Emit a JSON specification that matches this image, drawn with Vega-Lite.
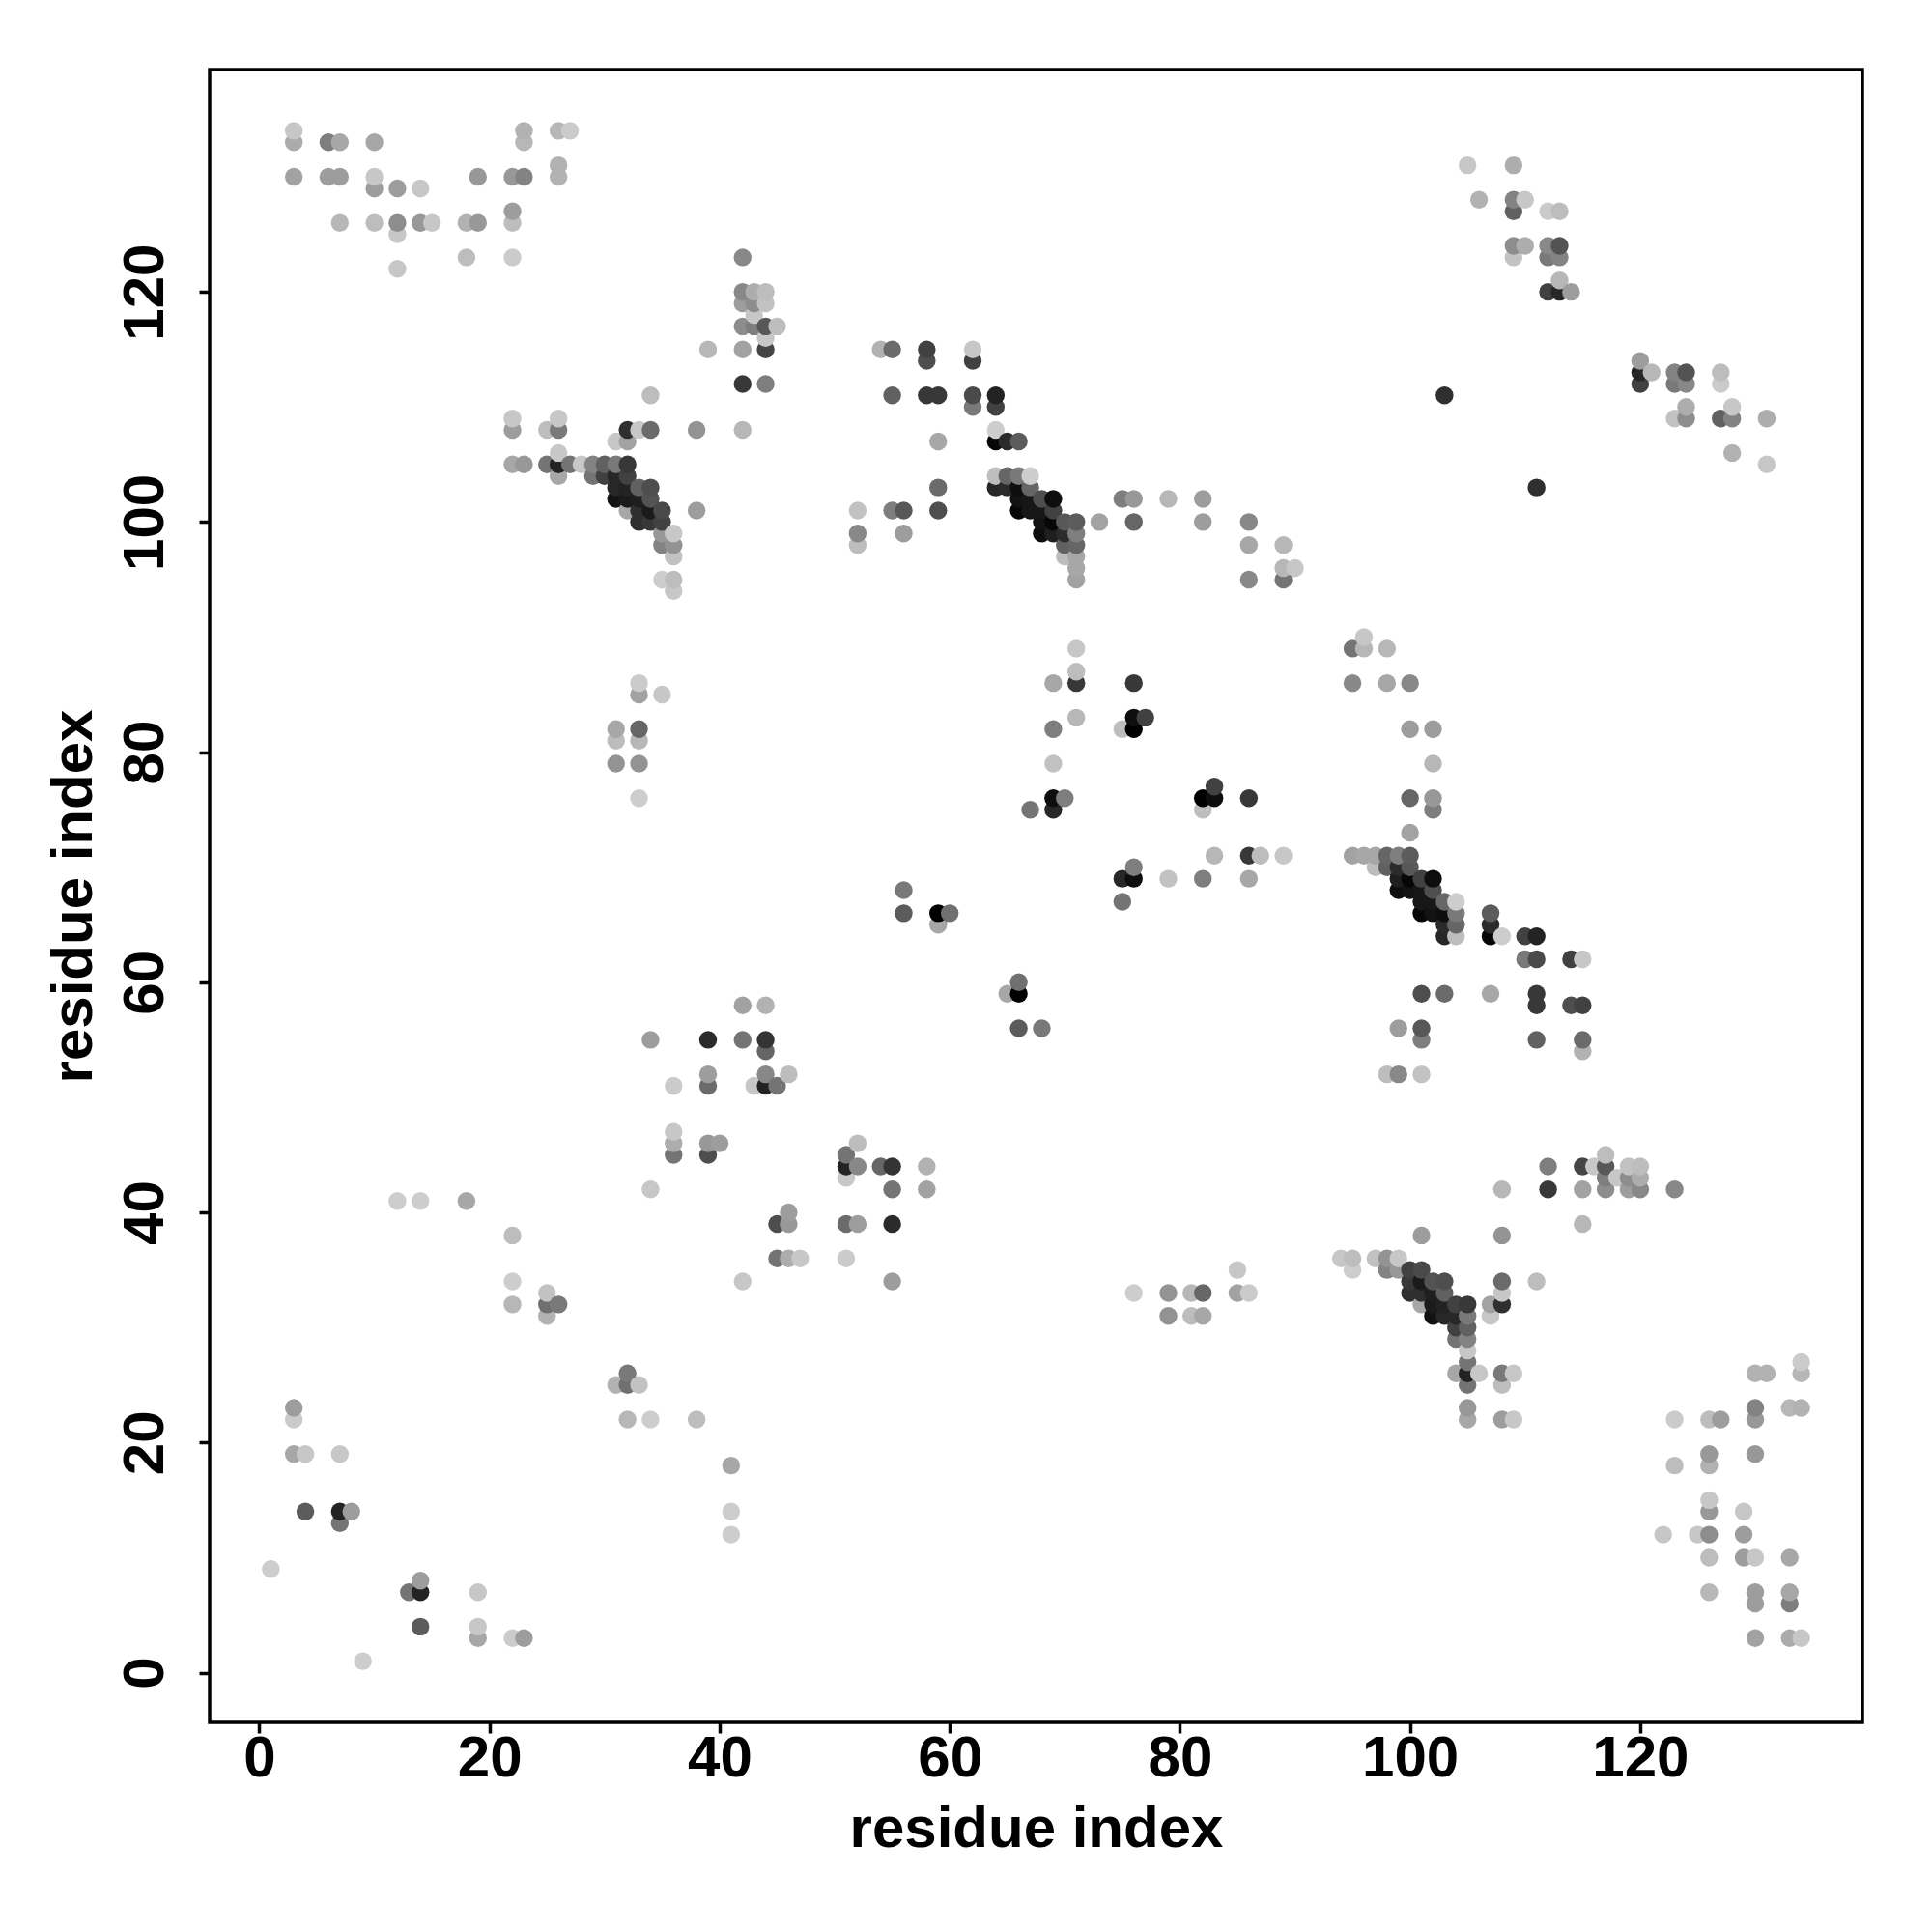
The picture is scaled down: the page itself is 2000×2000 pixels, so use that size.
{"$schema":"https://vega.github.io/schema/vega-lite/v6.json","width":1711,"height":1711,"autosize":"none","padding":{"left":217,"top":72,"right":72,"bottom":217},"background":"white","config":{"view":{"stroke":"#000000","strokeWidth":3.5,"fill":"white"}},
"data":{"values":[
{"x":1,"y":9,"g":210},
{"x":3,"y":19,"g":175},{"x":3,"y":22,"g":208},{"x":3,"y":23,"g":165},{"x":3,"y":130,"g":170},{"x":3,"y":133,"g":178},{"x":3,"y":134,"g":205},
{"x":4,"y":14,"g":100},{"x":4,"y":19,"g":205},
{"x":6,"y":130,"g":165},{"x":6,"y":133,"g":135},
{"x":7,"y":13,"g":125},{"x":7,"y":14,"g":35},{"x":7,"y":19,"g":205},{"x":7,"y":126,"g":190},{"x":7,"y":130,"g":165},{"x":7,"y":133,"g":175},
{"x":8,"y":14,"g":165},
{"x":9,"y":1,"g":210},
{"x":10,"y":126,"g":195},{"x":10,"y":129,"g":165},{"x":10,"y":130,"g":205},{"x":10,"y":133,"g":175},
{"x":12,"y":41,"g":210},{"x":12,"y":122,"g":205},{"x":12,"y":125,"g":205},{"x":12,"y":126,"g":150},{"x":12,"y":129,"g":165},
{"x":13,"y":7,"g":125},
{"x":14,"y":4,"g":100},{"x":14,"y":7,"g":35},{"x":14,"y":8,"g":165},{"x":14,"y":41,"g":210},{"x":14,"y":126,"g":160},{"x":14,"y":129,"g":205},
{"x":15,"y":126,"g":205},
{"x":18,"y":41,"g":175},{"x":18,"y":123,"g":195},{"x":18,"y":126,"g":185},
{"x":19,"y":3,"g":175},{"x":19,"y":4,"g":205},{"x":19,"y":7,"g":205},{"x":19,"y":126,"g":160},{"x":19,"y":130,"g":160},
{"x":22,"y":3,"g":208},{"x":22,"y":32,"g":190},{"x":22,"y":34,"g":210},{"x":22,"y":38,"g":195},{"x":22,"y":105,"g":175},{"x":22,"y":108,"g":165},{"x":22,"y":109,"g":205},{"x":22,"y":123,"g":208},{"x":22,"y":126,"g":195},{"x":22,"y":127,"g":165},{"x":22,"y":130,"g":160},
{"x":23,"y":3,"g":165},{"x":23,"y":105,"g":160},{"x":23,"y":130,"g":140},{"x":23,"y":133,"g":190},{"x":23,"y":134,"g":185},
{"x":25,"y":31,"g":185},{"x":25,"y":32,"g":120},{"x":25,"y":33,"g":200},{"x":25,"y":105,"g":125},{"x":25,"y":108,"g":195},
{"x":26,"y":32,"g":130},{"x":26,"y":104,"g":175},{"x":26,"y":105,"g":35},{"x":26,"y":106,"g":205},{"x":26,"y":108,"g":130},{"x":26,"y":109,"g":205},{"x":26,"y":130,"g":185},{"x":26,"y":131,"g":185},{"x":26,"y":134,"g":190},
{"x":27,"y":105,"g":125},{"x":27,"y":134,"g":208},
{"x":28,"y":105,"g":205},
{"x":29,"y":104,"g":125},{"x":29,"y":105,"g":140},
{"x":30,"y":104,"g":70},{"x":30,"y":105,"g":105},
{"x":31,"y":25,"g":185},{"x":31,"y":79,"g":155},{"x":31,"y":81,"g":195},{"x":31,"y":82,"g":175},{"x":31,"y":102,"g":15},{"x":31,"y":103,"g":40},{"x":31,"y":104,"g":40},{"x":31,"y":105,"g":130},{"x":31,"y":107,"g":205},
{"x":32,"y":22,"g":190},{"x":32,"y":25,"g":120},{"x":32,"y":26,"g":130},{"x":32,"y":101,"g":175},{"x":32,"y":102,"g":25},{"x":32,"y":103,"g":35},{"x":32,"y":104,"g":70},{"x":32,"y":105,"g":60},{"x":32,"y":107,"g":170},{"x":32,"y":108,"g":50},
{"x":33,"y":25,"g":200},{"x":33,"y":76,"g":210},{"x":33,"y":79,"g":155},{"x":33,"y":81,"g":190},{"x":33,"y":82,"g":110},{"x":33,"y":85,"g":170},{"x":33,"y":86,"g":208},{"x":33,"y":100,"g":50},{"x":33,"y":101,"g":50},{"x":33,"y":102,"g":30},{"x":33,"y":103,"g":105},{"x":33,"y":108,"g":205},
{"x":34,"y":22,"g":210},{"x":34,"y":42,"g":205},{"x":34,"y":55,"g":165},{"x":34,"y":100,"g":60},{"x":34,"y":101,"g":25},{"x":34,"y":102,"g":90},{"x":34,"y":103,"g":85},{"x":34,"y":108,"g":115},{"x":34,"y":111,"g":195},
{"x":35,"y":85,"g":205},{"x":35,"y":95,"g":210},{"x":35,"y":98,"g":140},{"x":35,"y":99,"g":160},{"x":35,"y":100,"g":70},{"x":35,"y":101,"g":80},
{"x":36,"y":45,"g":125},{"x":36,"y":46,"g":180},{"x":36,"y":47,"g":205},{"x":36,"y":51,"g":208},{"x":36,"y":94,"g":205},{"x":36,"y":95,"g":195},{"x":36,"y":97,"g":200},{"x":36,"y":98,"g":155},{"x":36,"y":99,"g":205},
{"x":38,"y":22,"g":195},{"x":38,"y":101,"g":165},{"x":38,"y":108,"g":155},
{"x":39,"y":45,"g":85},{"x":39,"y":46,"g":160},{"x":39,"y":51,"g":115},{"x":39,"y":52,"g":165},{"x":39,"y":55,"g":45},{"x":39,"y":115,"g":190},
{"x":40,"y":46,"g":165},
{"x":41,"y":12,"g":210},{"x":41,"y":14,"g":210},{"x":41,"y":18,"g":175},
{"x":42,"y":34,"g":205},{"x":42,"y":55,"g":125},{"x":42,"y":58,"g":170},{"x":42,"y":108,"g":190},{"x":42,"y":112,"g":60},{"x":42,"y":115,"g":170},{"x":42,"y":117,"g":150},{"x":42,"y":119,"g":165},{"x":42,"y":120,"g":145},{"x":42,"y":123,"g":145},
{"x":43,"y":51,"g":205},{"x":43,"y":117,"g":135},{"x":43,"y":118,"g":205},{"x":43,"y":119,"g":150},{"x":43,"y":120,"g":180},
{"x":44,"y":51,"g":35},{"x":44,"y":52,"g":145},{"x":44,"y":54,"g":110},{"x":44,"y":55,"g":55},{"x":44,"y":58,"g":185},{"x":44,"y":112,"g":135},{"x":44,"y":115,"g":75},{"x":44,"y":116,"g":205},{"x":44,"y":117,"g":95},{"x":44,"y":119,"g":200},{"x":44,"y":120,"g":195},
{"x":45,"y":36,"g":125},{"x":45,"y":39,"g":85},{"x":45,"y":51,"g":125},{"x":45,"y":117,"g":195},
{"x":46,"y":36,"g":180},{"x":46,"y":39,"g":160},{"x":46,"y":40,"g":165},{"x":46,"y":52,"g":195},
{"x":47,"y":36,"g":205},
{"x":51,"y":36,"g":208},{"x":51,"y":39,"g":115},{"x":51,"y":43,"g":205},{"x":51,"y":44,"g":35},{"x":51,"y":45,"g":125},
{"x":52,"y":39,"g":165},{"x":52,"y":44,"g":145},{"x":52,"y":46,"g":195},{"x":52,"y":98,"g":195},{"x":52,"y":99,"g":145},{"x":52,"y":101,"g":200},
{"x":54,"y":44,"g":110},{"x":54,"y":115,"g":185},
{"x":55,"y":34,"g":165},{"x":55,"y":39,"g":45},{"x":55,"y":42,"g":125},{"x":55,"y":44,"g":55},{"x":55,"y":101,"g":135},{"x":55,"y":111,"g":105},{"x":55,"y":115,"g":115},
{"x":56,"y":66,"g":100},{"x":56,"y":68,"g":130},{"x":56,"y":99,"g":165},{"x":56,"y":101,"g":95},
{"x":58,"y":42,"g":170},{"x":58,"y":44,"g":185},{"x":58,"y":111,"g":60},{"x":58,"y":114,"g":85},{"x":58,"y":115,"g":70},
{"x":59,"y":65,"g":175},{"x":59,"y":66,"g":0},{"x":59,"y":101,"g":85},{"x":59,"y":103,"g":115},{"x":59,"y":107,"g":175},{"x":59,"y":111,"g":60},
{"x":60,"y":66,"g":120},
{"x":62,"y":110,"g":130},{"x":62,"y":111,"g":80},{"x":62,"y":114,"g":70},{"x":62,"y":115,"g":205},
{"x":64,"y":103,"g":40},{"x":64,"y":104,"g":195},{"x":64,"y":107,"g":5},{"x":64,"y":108,"g":210},{"x":64,"y":110,"g":70},{"x":64,"y":111,"g":35},
{"x":65,"y":59,"g":175},{"x":65,"y":103,"g":45},{"x":65,"y":104,"g":110},{"x":65,"y":107,"g":45},
{"x":66,"y":56,"g":100},{"x":66,"y":59,"g":0},{"x":66,"y":60,"g":120},{"x":66,"y":101,"g":5},{"x":66,"y":102,"g":15},{"x":66,"y":103,"g":10},{"x":66,"y":104,"g":130},{"x":66,"y":107,"g":100},
{"x":67,"y":75,"g":125},{"x":67,"y":101,"g":20},{"x":67,"y":102,"g":20},{"x":67,"y":103,"g":110},{"x":67,"y":104,"g":210},
{"x":68,"y":56,"g":130},{"x":68,"y":99,"g":10},{"x":68,"y":100,"g":15},{"x":68,"y":101,"g":20},{"x":68,"y":102,"g":85},
{"x":69,"y":75,"g":40},{"x":69,"y":76,"g":10},{"x":69,"y":79,"g":200},{"x":69,"y":82,"g":135},{"x":69,"y":86,"g":175},{"x":69,"y":99,"g":30},{"x":69,"y":100,"g":5},{"x":69,"y":101,"g":70},{"x":69,"y":102,"g":10},
{"x":70,"y":76,"g":135},{"x":70,"y":97,"g":195},{"x":70,"y":98,"g":105},{"x":70,"y":99,"g":45},{"x":70,"y":100,"g":95},
{"x":71,"y":83,"g":190},{"x":71,"y":86,"g":60},{"x":71,"y":87,"g":195},{"x":71,"y":89,"g":205},{"x":71,"y":95,"g":170},{"x":71,"y":96,"g":175},{"x":71,"y":97,"g":175},{"x":71,"y":98,"g":110},{"x":71,"y":99,"g":135},{"x":71,"y":100,"g":100},
{"x":73,"y":100,"g":170},
{"x":75,"y":67,"g":125},{"x":75,"y":69,"g":40},{"x":75,"y":82,"g":195},{"x":75,"y":102,"g":135},
{"x":76,"y":33,"g":210},{"x":76,"y":69,"g":10},{"x":76,"y":70,"g":135},{"x":76,"y":82,"g":0},{"x":76,"y":83,"g":10},{"x":76,"y":86,"g":60},{"x":76,"y":100,"g":110},{"x":76,"y":102,"g":160},
{"x":77,"y":83,"g":70},
{"x":79,"y":31,"g":155},{"x":79,"y":33,"g":155},{"x":79,"y":69,"g":200},{"x":79,"y":102,"g":190},
{"x":81,"y":31,"g":195},{"x":81,"y":33,"g":190},
{"x":82,"y":31,"g":175},{"x":82,"y":33,"g":110},{"x":82,"y":69,"g":135},{"x":82,"y":75,"g":195},{"x":82,"y":76,"g":0},{"x":82,"y":100,"g":165},{"x":82,"y":102,"g":165},
{"x":83,"y":71,"g":190},{"x":83,"y":76,"g":10},{"x":83,"y":77,"g":70},
{"x":85,"y":33,"g":170},{"x":85,"y":35,"g":205},
{"x":86,"y":33,"g":208},{"x":86,"y":69,"g":175},{"x":86,"y":71,"g":60},{"x":86,"y":76,"g":60},{"x":86,"y":95,"g":145},{"x":86,"y":98,"g":175},{"x":86,"y":100,"g":145},
{"x":87,"y":71,"g":195},
{"x":89,"y":71,"g":205},{"x":89,"y":95,"g":125},{"x":89,"y":96,"g":190},{"x":89,"y":98,"g":190},
{"x":90,"y":96,"g":205},
{"x":94,"y":36,"g":205},
{"x":95,"y":35,"g":210},{"x":95,"y":36,"g":195},{"x":95,"y":71,"g":170},{"x":95,"y":86,"g":145},{"x":95,"y":89,"g":125},
{"x":96,"y":71,"g":175},{"x":96,"y":89,"g":190},{"x":96,"y":90,"g":205},
{"x":97,"y":36,"g":200},{"x":97,"y":70,"g":195},{"x":97,"y":71,"g":175},
{"x":98,"y":35,"g":140},{"x":98,"y":36,"g":155},{"x":98,"y":52,"g":195},{"x":98,"y":70,"g":105},{"x":98,"y":71,"g":110},{"x":98,"y":86,"g":175},{"x":98,"y":89,"g":190},
{"x":99,"y":35,"g":160},{"x":99,"y":36,"g":205},{"x":99,"y":52,"g":145},{"x":99,"y":56,"g":165},{"x":99,"y":68,"g":10},{"x":99,"y":69,"g":30},{"x":99,"y":70,"g":45},{"x":99,"y":71,"g":135},
{"x":100,"y":33,"g":50},{"x":100,"y":34,"g":60},{"x":100,"y":35,"g":70},{"x":100,"y":68,"g":15},{"x":100,"y":69,"g":5},{"x":100,"y":70,"g":95},{"x":100,"y":71,"g":100},{"x":100,"y":73,"g":170},{"x":100,"y":76,"g":110},{"x":100,"y":82,"g":165},{"x":100,"y":86,"g":145},
{"x":101,"y":32,"g":175},{"x":101,"y":33,"g":50},{"x":101,"y":34,"g":25},{"x":101,"y":35,"g":80},{"x":101,"y":38,"g":165},{"x":101,"y":52,"g":200},{"x":101,"y":55,"g":135},{"x":101,"y":56,"g":95},{"x":101,"y":59,"g":85},{"x":101,"y":66,"g":5},{"x":101,"y":67,"g":20},{"x":101,"y":68,"g":20},{"x":101,"y":69,"g":70},
{"x":102,"y":31,"g":15},{"x":102,"y":32,"g":25},{"x":102,"y":33,"g":30},{"x":102,"y":34,"g":90},{"x":102,"y":66,"g":15},{"x":102,"y":67,"g":20},{"x":102,"y":68,"g":85},{"x":102,"y":69,"g":10},{"x":102,"y":75,"g":135},{"x":102,"y":76,"g":160},{"x":102,"y":79,"g":190},{"x":102,"y":82,"g":165},
{"x":103,"y":31,"g":40},{"x":103,"y":32,"g":35},{"x":103,"y":33,"g":105},{"x":103,"y":34,"g":85},{"x":103,"y":59,"g":115},{"x":103,"y":64,"g":40},{"x":103,"y":65,"g":45},{"x":103,"y":66,"g":10},{"x":103,"y":67,"g":110},{"x":103,"y":111,"g":50},
{"x":104,"y":26,"g":175},{"x":104,"y":29,"g":125},{"x":104,"y":30,"g":70},{"x":104,"y":31,"g":40},{"x":104,"y":32,"g":70},{"x":104,"y":64,"g":195},{"x":104,"y":65,"g":110},{"x":104,"y":66,"g":130},{"x":104,"y":67,"g":210},
{"x":105,"y":22,"g":175},{"x":105,"y":23,"g":160},{"x":105,"y":25,"g":125},{"x":105,"y":26,"g":35},{"x":105,"y":27,"g":125},{"x":105,"y":28,"g":205},{"x":105,"y":29,"g":140},{"x":105,"y":30,"g":105},{"x":105,"y":31,"g":130},{"x":105,"y":32,"g":60},{"x":105,"y":131,"g":205},
{"x":106,"y":26,"g":205},{"x":106,"y":128,"g":185},
{"x":107,"y":31,"g":205},{"x":107,"y":32,"g":170},{"x":107,"y":59,"g":175},{"x":107,"y":64,"g":5},{"x":107,"y":65,"g":45},{"x":107,"y":66,"g":100},
{"x":108,"y":22,"g":165},{"x":108,"y":25,"g":195},{"x":108,"y":26,"g":130},{"x":108,"y":32,"g":50},{"x":108,"y":33,"g":205},{"x":108,"y":34,"g":115},{"x":108,"y":38,"g":155},{"x":108,"y":42,"g":190},{"x":108,"y":64,"g":210},
{"x":109,"y":22,"g":205},{"x":109,"y":26,"g":205},{"x":109,"y":123,"g":200},{"x":109,"y":124,"g":150},{"x":109,"y":127,"g":105},{"x":109,"y":128,"g":140},{"x":109,"y":131,"g":180},
{"x":110,"y":62,"g":130},{"x":110,"y":64,"g":70},{"x":110,"y":124,"g":180},{"x":110,"y":128,"g":205},
{"x":111,"y":34,"g":195},{"x":111,"y":55,"g":105},{"x":111,"y":58,"g":60},{"x":111,"y":59,"g":60},{"x":111,"y":62,"g":80},{"x":111,"y":64,"g":35},{"x":111,"y":103,"g":50},
{"x":112,"y":42,"g":60},{"x":112,"y":44,"g":135},{"x":112,"y":120,"g":70},{"x":112,"y":123,"g":130},{"x":112,"y":124,"g":145},{"x":112,"y":127,"g":208},
{"x":113,"y":120,"g":40},{"x":113,"y":121,"g":190},{"x":113,"y":123,"g":140},{"x":113,"y":124,"g":90},{"x":113,"y":127,"g":195},
{"x":114,"y":58,"g":85},{"x":114,"y":62,"g":70},{"x":114,"y":120,"g":165},
{"x":115,"y":39,"g":190},{"x":115,"y":42,"g":170},{"x":115,"y":44,"g":75},{"x":115,"y":54,"g":185},{"x":115,"y":55,"g":115},{"x":115,"y":58,"g":70},{"x":115,"y":62,"g":205},
{"x":116,"y":44,"g":205},
{"x":117,"y":42,"g":150},{"x":117,"y":43,"g":135},{"x":117,"y":44,"g":95},{"x":117,"y":45,"g":195},
{"x":118,"y":43,"g":205},
{"x":119,"y":42,"g":165},{"x":119,"y":43,"g":150},{"x":119,"y":44,"g":200},
{"x":120,"y":42,"g":145},{"x":120,"y":43,"g":180},{"x":120,"y":44,"g":195},{"x":120,"y":112,"g":70},{"x":120,"y":113,"g":40},{"x":120,"y":114,"g":165},
{"x":121,"y":113,"g":190},
{"x":122,"y":12,"g":205},
{"x":123,"y":18,"g":195},{"x":123,"y":22,"g":208},{"x":123,"y":42,"g":145},{"x":123,"y":109,"g":200},{"x":123,"y":112,"g":130},{"x":123,"y":113,"g":140},
{"x":124,"y":109,"g":150},{"x":124,"y":110,"g":180},{"x":124,"y":112,"g":145},{"x":124,"y":113,"g":90},
{"x":125,"y":12,"g":205},
{"x":126,"y":7,"g":190},{"x":126,"y":10,"g":195},{"x":126,"y":12,"g":150},{"x":126,"y":14,"g":160},{"x":126,"y":15,"g":205},{"x":126,"y":18,"g":185},{"x":126,"y":19,"g":160},{"x":126,"y":22,"g":195},
{"x":127,"y":22,"g":165},{"x":127,"y":109,"g":105},{"x":127,"y":112,"g":208},{"x":127,"y":113,"g":195},
{"x":128,"y":106,"g":185},{"x":128,"y":109,"g":140},{"x":128,"y":110,"g":205},
{"x":129,"y":10,"g":165},{"x":129,"y":12,"g":165},{"x":129,"y":14,"g":205},
{"x":130,"y":3,"g":170},{"x":130,"y":6,"g":165},{"x":130,"y":7,"g":165},{"x":130,"y":10,"g":205},{"x":130,"y":19,"g":160},{"x":130,"y":22,"g":160},{"x":130,"y":23,"g":140},{"x":130,"y":26,"g":185},
{"x":131,"y":26,"g":185},{"x":131,"y":105,"g":205},{"x":131,"y":109,"g":180},
{"x":133,"y":3,"g":178},{"x":133,"y":6,"g":135},{"x":133,"y":7,"g":175},{"x":133,"y":10,"g":175},{"x":133,"y":23,"g":190},
{"x":134,"y":3,"g":205},{"x":134,"y":23,"g":185},{"x":134,"y":26,"g":190},{"x":134,"y":27,"g":208}
]},
"mark":{"type":"point","filled":true,"opacity":1,"size":340,"strokeWidth":0},
"encoding":{
"x":{"field":"x","type":"quantitative","scale":{"domain":[-4.32,139.32],"nice":false,"zero":false},"axis":{"title":"residue index","grid":false,"domain":false,"values":[0,20,40,60,80,100,120],"tickColor":"#000000","tickWidth":3.5,"tickSize":11,"labelFont":"Liberation Sans","labelFontWeight":"bold","labelFontSize":60,"labelColor":"#000000","labelPadding":-3,"labelFlush":false,"titleFont":"Liberation Sans","titleFontWeight":"bold","titleFontSize":60,"titleColor":"#000000","titlePadding":14}},
"y":{"field":"y","type":"quantitative","scale":{"domain":[-4.32,139.32],"nice":false,"zero":false},"axis":{"title":"residue index","grid":false,"domain":false,"values":[0,20,40,60,80,100,120],"tickColor":"#000000","tickWidth":3.5,"tickSize":11,"labelFont":"Liberation Sans","labelFontWeight":"bold","labelFontSize":60,"labelColor":"#000000","labelAngle":270,"labelAlign":"center","labelBaseline":"bottom","labelPadding":25,"labelFlush":false,"titleFont":"Liberation Sans","titleFontWeight":"bold","titleFontSize":60,"titleColor":"#000000","titlePadding":13}},
"color":{"field":"g","type":"quantitative","legend":null,"scale":{"domain":[0,255],"range":["#000000","#ffffff"]}}
}}
